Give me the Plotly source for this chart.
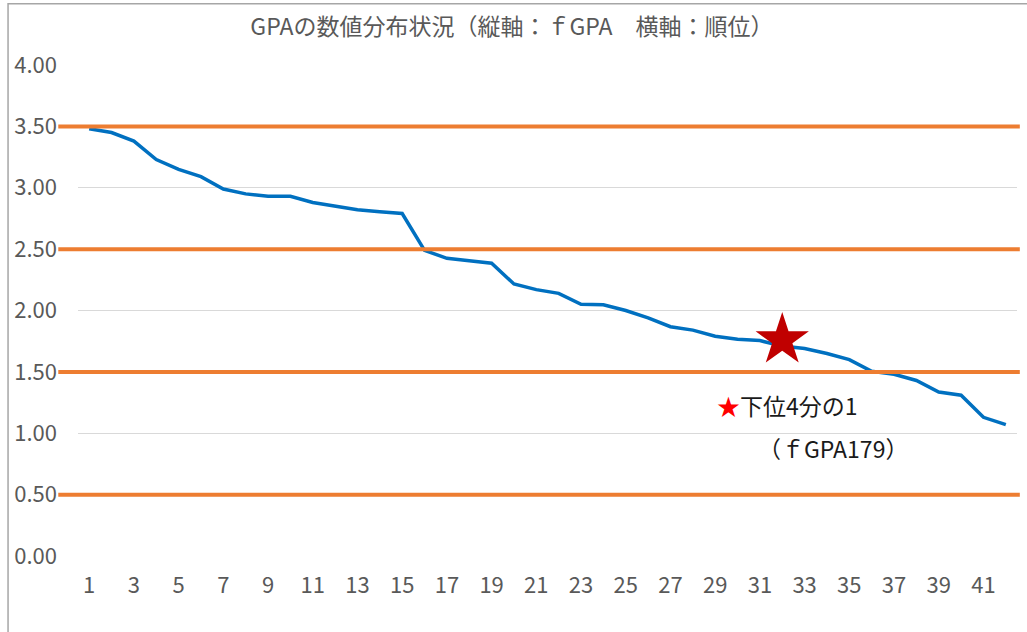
import plotly.graph_objects as go

ranks = list(range(1, 43))
gpa = [3.48, 3.45, 3.38, 3.23, 3.15, 3.09, 2.99, 2.95, 2.93, 2.93,
       2.88, 2.85, 2.82, 2.805, 2.79, 2.49, 2.425, 2.405, 2.385, 2.216,
       2.17, 2.14, 2.05, 2.047, 2.00, 1.94, 1.868, 1.84, 1.79, 1.765,
       1.755, 1.71, 1.69, 1.65, 1.60, 1.505, 1.48, 1.43, 1.336, 1.31,
       1.13, 1.07]
thresholds = [3.5, 2.5, 1.5, 0.5]
star_rank = 32
star_value = 1.76
title_text = "GPAの数値分布状況（縦軸：ｆGPA　横軸：順位）"
note_line1 = '<span style="color:#FF0000">★</span>下位4分の1'
note_line2 = "（ｆGPA179）"
xtick_vals = list(range(1, 43, 2))
ytick_vals = [0, 0.5, 1, 1.5, 2, 2.5, 3, 3.5, 4]

FONT = "Noto Sans CJK JP"
GRAY = "#595959"

fig = go.Figure()
fig.add_trace(go.Scatter(x=ranks, y=gpa, mode="lines",
                         line=dict(color="#0070C0", width=3.5),
                         hoverinfo="x+y", showlegend=False))
fig.add_trace(go.Scatter(x=[star_rank], y=[star_value], mode="markers",
                         marker=dict(symbol="star", size=40, color="#C00000",
                                     line=dict(width=0)),
                         showlegend=False))

shapes = []
for t in thresholds:
    shapes.append(dict(type="line", xref="paper", yref="y",
                       x0=-0.021, x1=1.003, y0=t, y1=t,
                       line=dict(color="#ED7D31", width=4), layer="above"))
# chart border
shapes.append(dict(type="rect", xref="paper", yref="paper",
                   x0=-0.0745, x1=1.2, y0=-0.3, y1=1.1245,
                   line=dict(color="#A6A6A6", width=1.5), layer="below"))

fig.update_layout(
    width=1027, height=632,
    margin=dict(l=78, r=10, t=65, b=76),
    paper_bgcolor="white", plot_bgcolor="white",
    font=dict(family=FONT, color=GRAY, size=20),
    title=dict(text=title_text, x=0.4985, xanchor="center", y=0.957,
               yanchor="middle", font=dict(family=FONT, size=23, color=GRAY)),
    xaxis=dict(range=[0.5, 42.5], tickvals=xtick_vals, showgrid=False,
               zeroline=False, showline=False, ticks="", ticklabelstandoff=14,
               tickfont=dict(size=22, color=GRAY, family=FONT)),
    yaxis=dict(range=[0, 4], tickvals=ytick_vals, tickformat=".2f",
               showgrid=True, gridcolor="#D9D9D9", gridwidth=1.3,
               zeroline=False, showline=False, ticks="", ticklabelstandoff=20,
               tickfont=dict(size=22, color=GRAY, family=FONT)),
    shapes=shapes,
    annotations=[
        dict(x=0.6785, y=0.3067, xref="paper", yref="paper", text=note_line1,
             showarrow=False, xanchor="left", yanchor="middle",
             font=dict(size=23, color="#1a1a1a", family=FONT)),
        dict(x=0.7225, y=0.2200, xref="paper", yref="paper", text=note_line2,
             showarrow=False, xanchor="left", yanchor="middle",
             font=dict(size=23, color="#1a1a1a", family=FONT)),
    ],
)

fig.write_html("out.html", config={"displayModeBar": False},
               post_script="document.body.style.margin='0';document.body.style.padding='0';")
